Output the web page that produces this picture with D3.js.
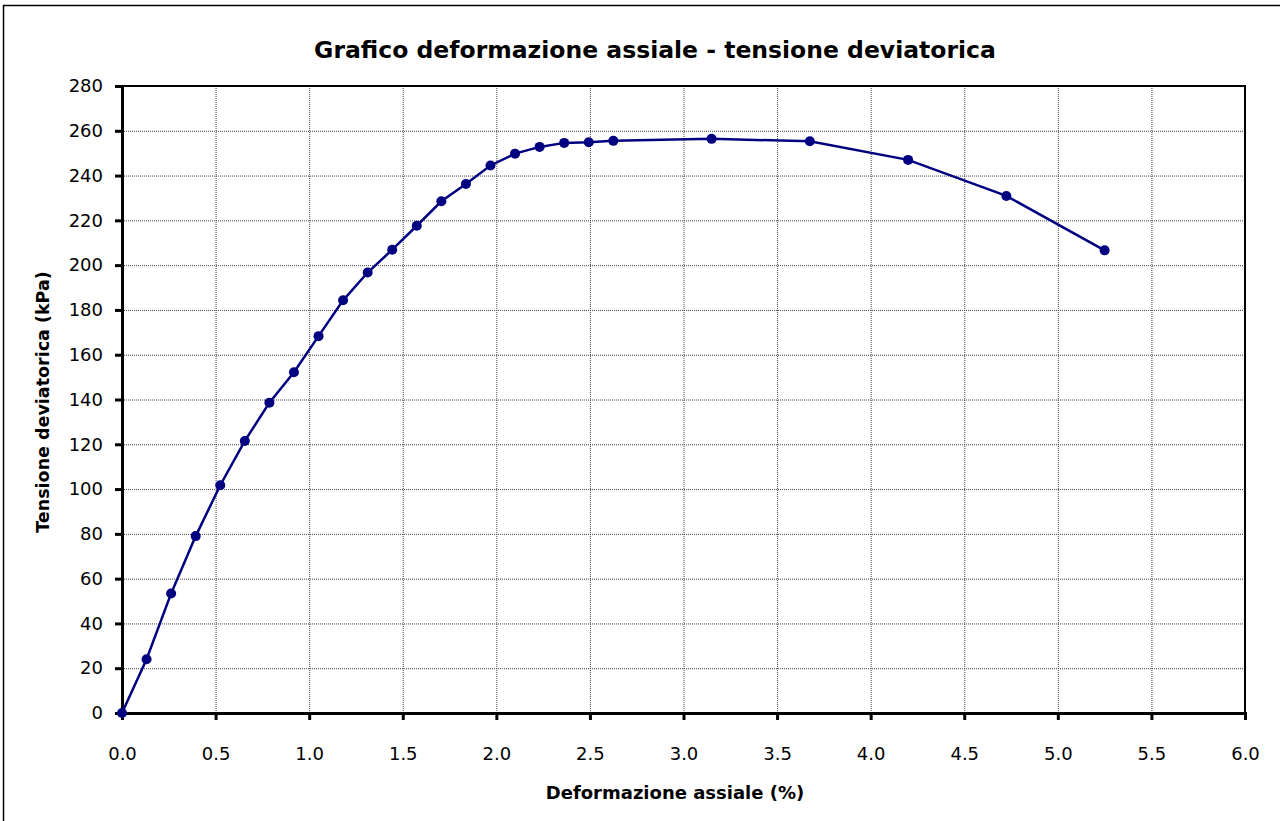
<!DOCTYPE html>
<html><head><meta charset="utf-8">
<script src="https://cdn.jsdelivr.net/npm/d3@7"></script>
<style>
html,body{margin:0;padding:0;background:#fff;}
svg{display:block;}
text{font-family:"Comic Sans MS","DejaVu Sans",sans-serif;fill:#000;}
</style></head>
<body>
<svg id="chart" width="1280" height="821"></svg>
<script>
const deformazione = [0, 0.13125, 0.2625, 0.39375, 0.525, 0.65625, 0.7875, 0.91875, 1.05, 1.18125, 1.3125, 1.44375, 1.575, 1.70625, 1.8375, 1.96875, 2.1, 2.23125, 2.3625, 2.49375, 2.625, 3.15, 3.675, 4.2, 4.725, 5.25];
const tensione = [0, 24.0, 53.4, 79.0, 101.7, 121.5, 138.6, 152.2, 168.3, 184.3, 196.7, 206.9, 217.6, 228.5, 236.2, 244.5, 249.8, 252.8, 254.6, 254.9, 255.5, 256.4, 255.3, 247.0, 230.9, 206.6];
const xTicks = [0, 0.5, 1, 1.5, 2, 2.5, 3, 3.5, 4, 4.5, 5, 5.5, 6];
const yTicks = [0, 20, 40, 60, 80, 100, 120, 140, 160, 180, 200, 220, 240, 260, 280];
const titleText = "Grafico deformazione assiale - tensione deviatorica";
const xTitle = "Deformazione assiale (%)";
const yTitle = "Tensione deviatorica (kPa)";

const svg = d3.select("#chart");
const L = 122, R = 1245, T = 86, B = 713;
const x = d3.scaleLinear().domain([0, 6]).range([L, R]);
const y = d3.scaleLinear().domain([0, 280]).range([B, T]);
const ff = "'Comic Sans MS','DejaVu Sans',sans-serif";

// outer frame
svg.append("rect").attr("x", 3.5).attr("y", 5.5).attr("width", 1290).attr("height", 830)
  .attr("fill", "none").attr("stroke", "#000").attr("stroke-width", 1.5);

// title
svg.append("text").attr("x", 655).attr("y", 58).attr("text-anchor", "middle")
  .attr("font-size", 23.5).attr("font-weight", "bold").text(titleText);

// gridlines
const grid = svg.append("g");
grid.selectAll("line.h").data(yTicks.slice(1, -1)).join("line")
  .attr("x1", L).attr("x2", R).attr("y1", d => y(d) + 0.5).attr("y2", d => y(d) + 0.5)
  .attr("stroke", "#444").attr("stroke-width", 1).attr("stroke-dasharray", "1,1");
grid.selectAll("line.v").data(xTicks.slice(1, -1)).join("line")
  .attr("y1", T).attr("y2", B).attr("x1", d => x(d) + 0.5).attr("x2", d => x(d) + 0.5)
  .attr("stroke", "#444").attr("stroke-width", 1).attr("stroke-dasharray", "1,1");

// plot border (top/right)
svg.append("path").attr("d", `M${L},${T}H${R}V${B}`).attr("fill", "none")
  .attr("stroke", "#000").attr("stroke-width", 2);

// axes
const xAxis = d3.axisBottom(x).tickValues(xTicks).tickFormat(d3.format(".1f")).tickSize(7).tickPadding(27);
const gx = svg.append("g").attr("transform", `translate(0,${B})`).call(xAxis);
gx.select(".domain").attr("stroke-width", 3);
gx.selectAll(".tick line").attr("stroke-width", 3);
gx.selectAll("text").attr("font-size", 18).style("font-family", ff);

const yAxis = d3.axisLeft(y).tickValues(yTicks).tickSize(7).tickPadding(12);
const gy = svg.append("g").attr("transform", `translate(${L},0)`).call(yAxis);
gy.select(".domain").attr("stroke-width", 3);
gy.selectAll(".tick line").attr("stroke-width", 3);
gy.selectAll("text").attr("font-size", 18).style("font-family", ff);

// axis titles
svg.append("text").attr("x", 675).attr("y", 799).attr("text-anchor", "middle")
  .attr("font-size", 18).attr("font-weight", "bold").text(xTitle);
svg.append("text").attr("transform", "translate(49,402) rotate(-90)").attr("text-anchor", "middle")
  .attr("font-size", 17.5).attr("font-weight", "bold").text(yTitle);

// series
const pts = deformazione.map((d, i) => [d, tensione[i]]);
svg.append("path").datum(pts)
  .attr("d", d3.line().x(d => x(d[0])).y(d => y(d[1])))
  .attr("fill", "none").attr("stroke", "#000080").attr("stroke-width", 2.5);
svg.selectAll("circle.pt").data(pts).join("circle")
  .attr("cx", d => x(d[0])).attr("cy", d => y(d[1])).attr("r", 5)
  .attr("fill", "#000080");
</script>
</body></html>
